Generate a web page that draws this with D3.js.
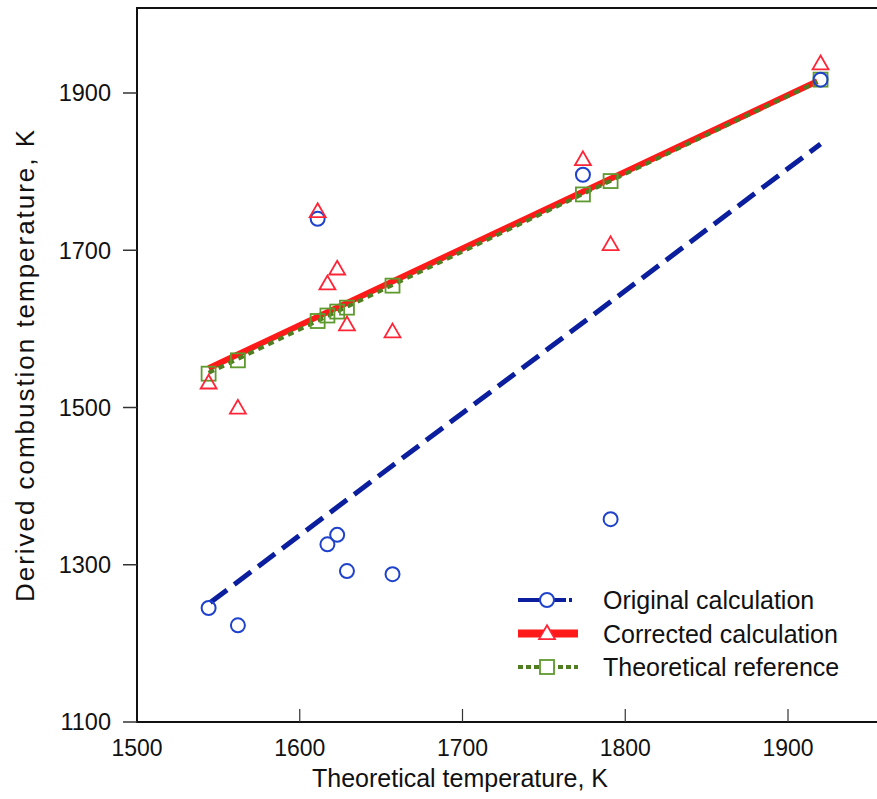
<!DOCTYPE html>
<html>
<head>
<meta charset="utf-8">
<script src="https://cdn.jsdelivr.net/npm/d3@7"></script>
<style>
  body { margin: 0; background: #fff; }
  svg { display: block; font-family: "Liberation Sans", Arial, Helvetica, sans-serif; }
</style>
</head>
<body>
<script>
// Data
const theoretical = [1544, 1562, 1611, 1617, 1623, 1629, 1657, 1774, 1791, 1920];
const original = [1245, 1223, 1740, 1326, 1338, 1292, 1288, 1796, 1358, 1917];
const corrected = [1530, 1498, 1748, 1656, 1675, 1604, 1595, 1814, 1706, 1936];
const reference = [1543, 1560, 1610, 1617, 1622, 1627, 1655, 1771, 1788, 1917];

// Fit lines (end points)
const originalFit = [[1545, 1252], [1920, 1835]];
const correctedFit = [[1544, 1550], [1918, 1915]];
const referenceFit = [[1544, 1544], [1918, 1914]];

const xTicks = [1500, 1600, 1700, 1800, 1900];
const yTicks = [1100, 1300, 1500, 1700, 1900];

const seriesNames = ["Original calculation", "Corrected calculation", "Theoretical reference"];

const w = 877;
const h = 799;

const svg = d3.select("body").append("svg").attr("width", w).attr("height", h);

const x = d3.scaleLinear().domain([1500, 1900]).range([137, 788]);
const y = d3.scaleLinear().domain([1100, 1900]).range([722, 93]);

const frameLeft = x(1500);
const frameBottom = y(1100);
const frameTop = 8;

// Frame: left, top and bottom lines
svg.append("path")
  .attr("d", `M${w},${frameTop}H${frameLeft}V${frameBottom}H${w}`)
  .attr("fill", "none")
  .attr("stroke", "#111")
  .attr("stroke-width", 2);

// x axis: ticks point up inside the frame
const xAxis = svg.append("g").attr("transform", `translate(0,${frameBottom})`);
xAxis.selectAll("line")
  .data(xTicks.slice(1))
  .enter()
  .append("line")
  .attr("x1", (d) => x(d))
  .attr("x2", (d) => x(d))
  .attr("y1", 0)
  .attr("y2", -13)
  .attr("stroke", "#333")
  .attr("stroke-width", 1.2);
xAxis.selectAll("text")
  .data(xTicks)
  .enter()
  .append("text")
  .attr("x", (d) => x(d))
  .attr("y", 34)
  .attr("text-anchor", "middle")
  .attr("font-size", 23)
  .attr("fill", "#111")
  .text((d) => d);

// y axis: ticks point out to the left
const yAxis = svg.append("g").attr("transform", `translate(${frameLeft},0)`);
yAxis.selectAll("line")
  .data(yTicks)
  .enter()
  .append("line")
  .attr("x1", -14)
  .attr("x2", 0)
  .attr("y1", (d) => y(d))
  .attr("y2", (d) => y(d))
  .attr("stroke", "#333")
  .attr("stroke-width", 1.5);
yAxis.selectAll("text")
  .data(yTicks)
  .enter()
  .append("text")
  .attr("x", -26)
  .attr("y", (d) => y(d))
  .attr("dy", "0.36em")
  .attr("text-anchor", "end")
  .attr("font-size", 23.5)
  .attr("fill", "#111")
  .text((d) => d);

// Axis titles
svg.append("text")
  .attr("x", 460)
  .attr("y", 787)
  .attr("text-anchor", "middle")
  .attr("font-size", 25)
  .attr("fill", "#111")
  .text("Theoretical temperature, K");

svg.append("text")
  .attr("transform", "translate(34,366) rotate(-90)")
  .attr("text-anchor", "middle")
  .attr("font-size", 26)
  .attr("textLength", 472)
  .attr("lengthAdjust", "spacing")
  .attr("fill", "#111")
  .text("Derived combustion temperature, K");

// Fit lines
const line = d3.line().x((d) => x(d[0])).y((d) => y(d[1]));

svg.append("path")
  .attr("d", line(originalFit))
  .attr("fill", "none")
  .attr("stroke", "#0b1f9e")
  .attr("stroke-width", 5)
  .attr("stroke-dasharray", "21 9");

svg.append("path")
  .attr("d", line(correctedFit))
  .attr("fill", "none")
  .attr("stroke", "#ff1a1a")
  .attr("stroke-width", 6);

svg.append("path")
  .attr("d", line(referenceFit))
  .attr("fill", "none")
  .attr("stroke", "#4f7d1f")
  .attr("stroke-width", 4)
  .attr("stroke-dasharray", "6 5");

// Markers
const circleColor = "#1f42cc";
const triColor = "#ff2436";
const squareColor = "#5e9a2e";
const triangle = d3.symbol().type(d3.symbolTriangle).size(110);

svg.selectAll(".sq")
  .data(theoretical)
  .enter()
  .append("rect")
  .attr("class", "sq")
  .attr("x", (d) => x(d) - 7)
  .attr("y", (d, i) => y(reference[i]) - 7)
  .attr("width", 14)
  .attr("height", 14)
  .attr("fill", "none")
  .attr("stroke", squareColor)
  .attr("stroke-width", 1.8);

svg.selectAll(".circ")
  .data(theoretical)
  .enter()
  .append("circle")
  .attr("class", "circ")
  .attr("cx", (d) => x(d))
  .attr("cy", (d, i) => y(original[i]))
  .attr("r", 7)
  .attr("fill", "none")
  .attr("stroke", circleColor)
  .attr("stroke-width", 2);

svg.selectAll(".tri")
  .data(theoretical)
  .enter()
  .append("path")
  .attr("class", "tri")
  .attr("d", triangle)
  .attr("transform", (d, i) => `translate(${x(d)},${y(corrected[i])})`)
  .attr("fill", "none")
  .attr("stroke", triColor)
  .attr("stroke-width", 1.8);

// Legend
const legend = svg.append("g").attr("transform", "translate(518,600)");
const rowGap = 33.5;

// Original calculation
legend.append("line")
  .attr("x1", 0).attr("x2", 60).attr("y1", 0).attr("y2", 0)
  .attr("stroke", "#0b1f9e").attr("stroke-width", 4)
  .attr("stroke-dasharray", "22 8 18 3 3");
legend.append("circle")
  .attr("cx", 29).attr("cy", 0).attr("r", 7)
  .attr("fill", "#fff").attr("stroke", circleColor).attr("stroke-width", 2);

// Corrected calculation
legend.append("line")
  .attr("x1", 0).attr("x2", 60).attr("y1", rowGap).attr("y2", rowGap)
  .attr("stroke", "#ff1a1a").attr("stroke-width", 8);
legend.append("path")
  .attr("d", triangle)
  .attr("transform", `translate(29,${rowGap + 1})`)
  .attr("fill", "#fff").attr("stroke", triColor).attr("stroke-width", 1.8);

// Theoretical reference
legend.append("line")
  .attr("x1", 0).attr("x2", 60).attr("y1", rowGap * 2).attr("y2", rowGap * 2)
  .attr("stroke", "#4f7d1f").attr("stroke-width", 4)
  .attr("stroke-dasharray", "5 3");
legend.append("rect")
  .attr("x", 22).attr("y", rowGap * 2 - 7).attr("width", 14).attr("height", 14)
  .attr("fill", "#fff").attr("stroke", squareColor).attr("stroke-width", 1.8);

legend.selectAll("text")
  .data(seriesNames)
  .enter()
  .append("text")
  .attr("x", 85)
  .attr("y", (d, i) => i * rowGap)
  .attr("dy", "0.36em")
  .attr("font-size", 25)
  .attr("fill", "#111")
  .text((d) => d);
</script>
</body>
</html>
